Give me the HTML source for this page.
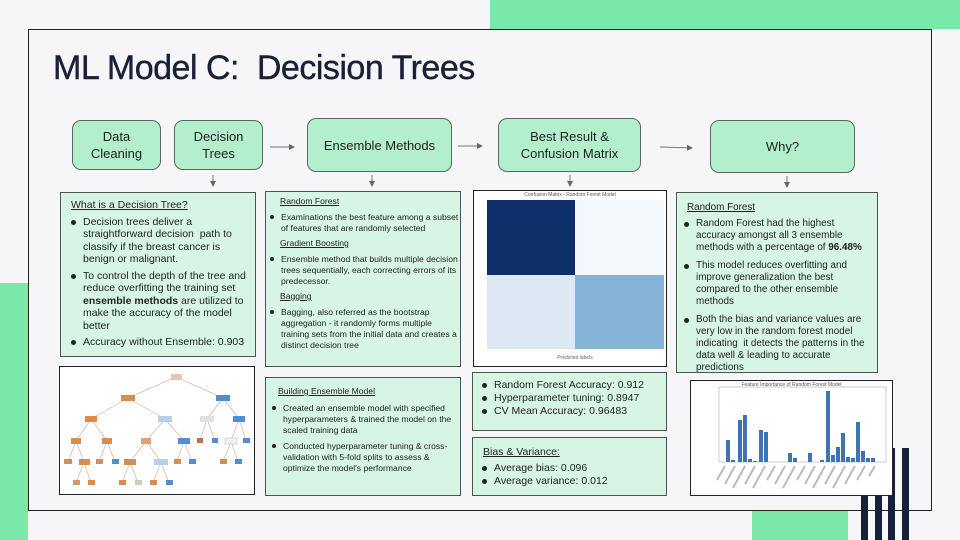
<!DOCTYPE html>
<html><head><meta charset="utf-8"><style>
*{margin:0;padding:0;box-sizing:border-box}
body{width:960px;height:540px;background:#f6f6f8;position:relative;overflow:hidden;font-family:"Liberation Sans",sans-serif;color:#1f2430}
.a{position:absolute}
.fb{position:absolute;background:#b3efcc;border:1px solid #5a6a60;border-radius:9px;display:flex;align-items:center;justify-content:center;text-align:center;font-size:13px;line-height:17px;color:#222}
.tb{position:absolute;background:#d7f5e4;border:1px solid #4a5550;font-size:10.5px;line-height:12.5px;color:#222}
.tb ul{list-style:none}
.tb li{position:relative;padding-left:17px;margin-top:4px}
.tb li:before{content:"";position:absolute;left:5px;top:4px;width:5px;height:5px;border-radius:50%;background:#222}
.u{text-decoration:underline}
.sm{font-size:9px;line-height:11px}
.sm li{padding-left:15px}
.sm li:before{left:4px;top:3px;width:4px;height:4px}
</style></head><body>
<div class="a" style="left:490px;top:0;width:470px;height:29px;background:#79e8a9"></div>
<div class="a" style="left:0;top:283px;width:28px;height:257px;background:#79e8a9"></div>
<div class="a" style="left:752px;top:510px;width:96px;height:30px;background:#79e8a9"></div>
<div class="a" style="left:28px;top:29px;width:904px;height:482px;border:1px solid #222;background:#f6f6f8"></div>
<div class="a" style="left:861px;top:448px;width:7px;height:92px;background:#15203a"></div>
<div class="a" style="left:875px;top:448px;width:7px;height:92px;background:#15203a"></div>
<div class="a" style="left:888px;top:448px;width:7px;height:92px;background:#15203a"></div>
<div class="a" style="left:902px;top:448px;width:7px;height:92px;background:#15203a"></div>
<div class="a" style="left:53px;top:49px;font-size:34px;color:#1a2035;letter-spacing:-0.5px;-webkit-text-stroke:0.4px #1a2035">ML Model C:&nbsp; Decision Trees</div>

<div class="fb" style="left:72px;top:120px;width:89px;height:50px">Data<br>Cleaning</div>
<div class="fb" style="left:174px;top:120px;width:89px;height:50px">Decision<br>Trees</div>
<div class="fb" style="left:307px;top:118px;width:145px;height:54px">Ensemble Methods</div>
<div class="fb" style="left:498px;top:118px;width:143px;height:54px">Best Result &amp;<br>Confusion Matrix</div>
<div class="fb" style="left:710px;top:120px;width:145px;height:53px">Why?</div>

<svg class="a" style="left:0;top:0" width="960" height="540">
<defs><marker id="m" markerWidth="6" markerHeight="6" refX="5" refY="3" orient="auto"><path d="M0,0L6,3L0,6z" fill="#666"/></marker></defs>
<g stroke="#777" stroke-width="1" marker-end="url(#m)">
<line x1="270" y1="147" x2="294" y2="147"/><line x1="458" y1="146" x2="482" y2="146"/>
<line x1="660" y1="147" x2="692" y2="148"/>
<line x1="213" y1="175" x2="213" y2="186"/><line x1="372" y1="175" x2="372" y2="186"/>
<line x1="570" y1="175" x2="570" y2="186"/><line x1="787" y1="176" x2="787" y2="187"/>
</g></svg>

<div class="tb" style="left:60px;top:192px;width:196px;height:165px;padding:6px 8px 0 5px">
<div class="u" style="margin-left:5px">What is a Decision Tree?</div>
<ul><li>Decision trees deliver a straightforward decision&nbsp; path to classify if the breast cancer is benign or malignant.</li>
<li>To control the depth of the tree and reduce overfitting the training set <b>ensemble methods</b> are utilized to make the accuracy of the model better</li>
<li>Accuracy without Ensemble: 0.903</li></ul></div>

<div class="tb sm" style="left:265px;top:191px;width:196px;height:176px;padding:4px 0 0 0;font-size:8.6px">
<div class="u" style="margin-left:14px">Random Forest</div>
<ul><li style="margin-top:5px">Examinations the best feature among a subset of features that are randomly selected</li></ul>
<div class="u" style="margin:4px 0 0 14px">Gradient Boosting</div>
<ul><li style="margin-top:5px">Ensemble method that builds multiple decision trees sequentially, each correcting errors of its predecessor.</li></ul>
<div class="u" style="margin:4px 0 0 14px">Bagging</div>
<ul><li style="margin-top:5px">Bagging, also referred as the bootstrap aggregation - it randomly forms multiple training sets from the initial data and creates a distinct decision tree</li></ul></div>

<div class="a" style="left:473px;top:190px;width:194px;height:177px;background:#fff;border:1px solid #222"></div>
<div class="a" style="left:473px;top:192px;width:194px;text-align:center;font-size:5px;color:#555">Confusion Matrix - Random Forest Model</div>
<div class="a" style="left:487px;top:200px;width:88px;height:75px;background:#0e2f6a"></div>
<div class="a" style="left:575px;top:200px;width:89px;height:75px;background:#f4f8fd"></div>
<div class="a" style="left:487px;top:275px;width:88px;height:74px;background:#dde8f5"></div>
<div class="a" style="left:575px;top:275px;width:89px;height:74px;background:#86b4d8"></div>
<div class="a" style="left:490px;top:355px;width:170px;text-align:center;font-size:5px;color:#666">Predicted labels</div>

<div class="tb" style="left:676px;top:192px;width:202px;height:181px;padding:9px 3px 0 2px;font-size:9.9px;line-height:12px">
<div class="u" style="margin-left:8px">Random Forest</div>
<ul><li>Random Forest had the highest accuracy amongst all 3 ensemble methods with a percentage of <b>96.48%</b></li>
<li style="margin-top:6px">This model reduces overfitting and improve generalization the best compared to the other ensemble methods</li>
<li style="margin-top:6px">Both the bias and variance values are very low in the random forest model indicating&nbsp; it detects the patterns in the data well &amp; leading to accurate predictions</li></ul></div>

<div class="a" style="left:59px;top:366px;width:196px;height:129px;background:#fff;border:1px solid #222"></div>
<svg class="a" style="left:0;top:0" width="960" height="540">
<g stroke="#c8b8a8" stroke-width="0.7">
<path d="M176 377L128 398M176 377L223 398M128 398L91 419M128 398L165 419M223 398L207 419M223 398L239 419M91 419L76 441M91 419L107 441M165 419L146 441M165 419L184 441M207 419L200 441M207 419L215 441M239 419L231 441M239 419L246 441M76 441L68 462M76 441L84 462M107 441L99 462M107 441L115 462M146 441L130 462M146 441L161 462M184 441L177 462M184 441L192 462M231 441L223 462M231 441L238 462M84 462L76 483M84 462L91 483M130 462L122 483M130 462L138 483M161 462L153 483M161 462L169 483"/></g>
<g>
<rect x="171" y="374" width="11" height="6" fill="#e8c8ae"/>
<rect x="121" y="395" width="14" height="6" fill="#d98c4f"/><rect x="216" y="395" width="14" height="6" fill="#4f8fd0"/>
<rect x="85" y="416" width="12" height="6" fill="#d98c4f"/><rect x="158" y="416" width="14" height="6" fill="#b7d0ea"/><rect x="200" y="416" width="14" height="6" fill="#dde2ea"/><rect x="233" y="416" width="12" height="6" fill="#4f8fd0"/>
<rect x="71" y="438" width="10" height="6" fill="#d98c4f"/><rect x="102" y="438" width="10" height="6" fill="#d98c4f"/><rect x="141" y="438" width="10" height="6" fill="#e0a070"/><rect x="178" y="438" width="12" height="6" fill="#4f8fd0"/><rect x="197" y="438" width="6" height="5" fill="#c07040"/><rect x="212" y="438" width="6" height="5" fill="#4f8fd0"/><rect x="225" y="438" width="12" height="6" fill="#f0f0f0" stroke="#bbb" stroke-width=".5"/><rect x="243" y="438" width="7" height="5" fill="#4f8fd0"/>
<rect x="64" y="459" width="8" height="5" fill="#d98c4f"/><rect x="79" y="459" width="11" height="6" fill="#d98c4f"/><rect x="96" y="459" width="7" height="5" fill="#d98c4f"/><rect x="112" y="459" width="7" height="5" fill="#4f8fd0"/><rect x="124" y="459" width="12" height="6" fill="#d98c4f"/><rect x="154" y="459" width="14" height="6" fill="#b7d0ea"/><rect x="174" y="459" width="7" height="5" fill="#d98c4f"/><rect x="189" y="459" width="7" height="5" fill="#4f8fd0"/><rect x="220" y="459" width="7" height="5" fill="#d98c4f"/><rect x="235" y="459" width="7" height="5" fill="#4f8fd0"/>
<rect x="73" y="480" width="7" height="5" fill="#d09a70"/><rect x="88" y="480" width="7" height="5" fill="#d98c4f"/><rect x="119" y="480" width="7" height="5" fill="#d98c4f"/><rect x="135" y="480" width="7" height="5" fill="#d8c8b8"/><rect x="150" y="480" width="7" height="5" fill="#d98c4f"/><rect x="166" y="480" width="7" height="5" fill="#4f8fd0"/>
</g></svg>

<div class="tb sm" style="left:265px;top:377px;width:196px;height:119px;padding:8px 6px 0 2px;font-size:8.6px">
<div class="u" style="margin-left:10px">Building Ensemble Model</div>
<ul><li style="margin-top:6px">Created an ensemble model with specified hyperparameters &amp; trained the model on the scaled training data</li>
<li style="margin-top:5px">Conducted hyperparameter tuning &amp; cross-validation with 5-fold splits to assess &amp; optimize the model's performance</li></ul></div>

<div class="tb" style="left:472px;top:372px;width:195px;height:59px;padding:6px 4px 0 4px;line-height:13px">
<ul><li style="margin-top:0">Random Forest Accuracy: 0.912</li><li style="margin-top:0">Hyperparameter tuning: 0.8947</li><li style="margin-top:0">CV Mean Accuracy: 0.96483</li></ul></div>
<div class="tb" style="left:472px;top:437px;width:195px;height:59px;padding:8px 4px 0 4px;line-height:13px">
<div class="u" style="margin-left:6px">Bias &amp; Variance:</div>
<ul><li style="margin-top:3px">Average bias: 0.096</li><li style="margin-top:0">Average variance: 0.012</li></ul></div>

<div class="a" style="left:690px;top:380px;width:203px;height:116px;background:#fff;border:1px solid #222"></div>
<div class="a" style="left:690px;top:382px;width:203px;text-align:center;font-size:5px;color:#555">Feature Importance of Random Forest Model</div>
<svg class="a" style="left:0;top:0" width="960" height="540">
<rect x="719" y="387" width="167" height="75" fill="none" stroke="#999" stroke-width=".5"/>
<g fill="#3f74b4">
<rect x="726" y="440" width="4" height="22"/><rect x="731" y="460" width="4" height="2"/><rect x="738" y="420" width="4" height="42"/><rect x="743" y="415" width="4" height="47"/><rect x="748" y="459" width="4" height="3"/><rect x="753" y="461" width="4" height="1"/><rect x="759" y="430" width="4" height="32"/><rect x="764" y="432" width="4" height="30"/>
<rect x="788" y="453" width="4" height="9"/><rect x="793" y="458" width="4" height="4"/><rect x="808" y="453" width="4" height="9"/><rect x="820" y="460" width="4" height="2"/>
<rect x="826" y="391" width="4" height="71"/><rect x="831" y="455" width="4" height="7"/><rect x="836" y="447" width="4" height="15"/><rect x="841" y="433" width="4" height="29"/><rect x="846" y="457" width="4" height="5"/><rect x="851" y="458" width="4" height="4"/><rect x="856" y="422" width="4" height="40"/><rect x="861" y="451" width="4" height="11"/><rect x="866" y="458" width="4" height="4"/><rect x="871" y="458" width="4" height="4"/>
</g>
<g stroke="#bbb" stroke-width="2"><path d="M725 466l-8 14M735 466l-10 18M745 466l-12 22M755 466l-10 18M765 466l-12 22M775 466l-8 14M785 466l-10 18M795 466l-12 22M805 466l-8 14M815 466l-10 18M825 466l-12 22M835 466l-10 18M845 466l-12 22M855 466l-10 18M865 466l-8 14M875 466l-6 10"/></g>
</svg>
</body></html>
